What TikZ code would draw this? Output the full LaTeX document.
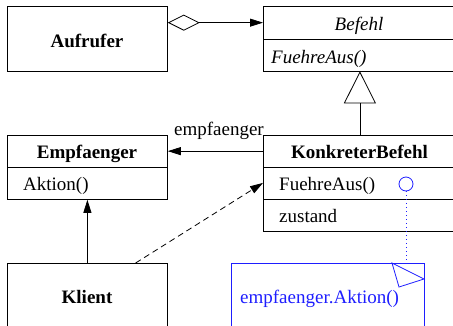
\documentclass[tikz,border=0pt]{standalone}
\usepackage{fontspec}
\setmainfont{Liberation Serif}
\usetikzlibrary{arrows.meta,calc}
\definecolor{notecol}{RGB}{30,30,255}
\begin{document}
\begin{tikzpicture}[x=1pt,y=-1pt,
  box/.style={draw, line width=0.8pt, anchor=north west, inner sep=0pt},
  lbl/.style={font=\fontsize{19}{22}\selectfont, inner sep=0pt},
  link/.style={line width=0.8pt},
  tip/.style={-{Triangle[length=13pt,width=8pt]}},
]
\useasboundingbox (0,0) rectangle (453,325);
\clip (0,0) rectangle (453,325);

% classes
\node[box, minimum width=160pt, minimum height=64.5pt] (aufrufer) at (7,6) {};
\node[box, minimum width=193pt, minimum height=32.5pt] (befHead) at (263,6) {};
\node[box, minimum width=193pt, minimum height=32pt] (befOps) at (263,38.5) {};
\node[box, minimum width=160pt, minimum height=31.5pt] (empHead) at (7,135) {};
\node[box, minimum width=160pt, minimum height=32.5pt] (empOps) at (7,166.5) {};
\node[box, minimum width=193pt, minimum height=31.5pt] (kbHead) at (263,135) {};
\node[box, minimum width=193pt, minimum height=32pt] (kbOps) at (263,166.5) {};
\node[box, minimum width=193pt, minimum height=32pt] (kbAttr) at (263,198.5) {};
\node[box, minimum width=160pt, minimum height=80pt] (klient) at (7,263) {};

% labels
\node[lbl, anchor=base] (tAufrufer) at (87,47) {\textbf{Aufrufer}};
\node[lbl, anchor=base] (tBefehl) at (359,30) {\textit{Befehl}};
\node[lbl, anchor=base west] (tBefOp) at (271,63) {\textit{FuehreAus()}};
\node[lbl, anchor=base] (tEmp) at (87,158) {\textbf{Empfaenger}};
\node[lbl, anchor=base west] (tAktion) at (23,190) {Aktion()};
\node[lbl, anchor=base] (tKb) at (359.5,158) {\textbf{KonkreterBefehl}};
\node[lbl, anchor=base west] (tKbOp) at (279,190) {FuehreAus()};
\node[lbl, anchor=base west] (tZustand) at (279,222) {zustand};
\node[lbl, anchor=base] (tKlient) at (87,303) {\textbf{Klient}};

% relations
\draw[link, {Diamond[open,length=32pt,width=16pt]}-{Triangle[length=13pt,width=8pt]}]
  (aufrufer.east |- befHead.west) -- (befHead.west);
\draw[link, -{Triangle[open,length=32pt,width=32pt]}] (kbHead.north) -- (befOps.south);
\draw[link, tip] (kbHead.west) -- (empHead.east);
\node[lbl, anchor=base east] (tRole) at (264,135) {empfaenger};
\draw[link, tip] (klient.north) -- (empOps.south);
\coordinate (klientCall) at ($(klient.north west)!0.8!(klient.north east)$);
\draw[link, tip, dash pattern=on 6pt off 4pt] (klientCall) -- (kbOps.west);

% implementation note
\node[draw=notecol, circle, minimum size=14pt, inner sep=0pt, line width=0.8pt] (circ) at (406,184) {};
\node[box, draw=notecol, minimum width=193pt, minimum height=80pt] (note) at (231,263) {};
\draw[notecol, line width=0.8pt, dash pattern=on 1pt off 3pt] (circ.south) -- (circ.south |- note.north);
\draw[notecol, line width=0.8pt, line join=miter] (392,263) -- (399,287) -- (424,279) -- cycle;
\node[lbl, anchor=base west, text=notecol] (tNote) at (240,303) {empfaenger.Aktion()};
\end{tikzpicture}
\end{document}
